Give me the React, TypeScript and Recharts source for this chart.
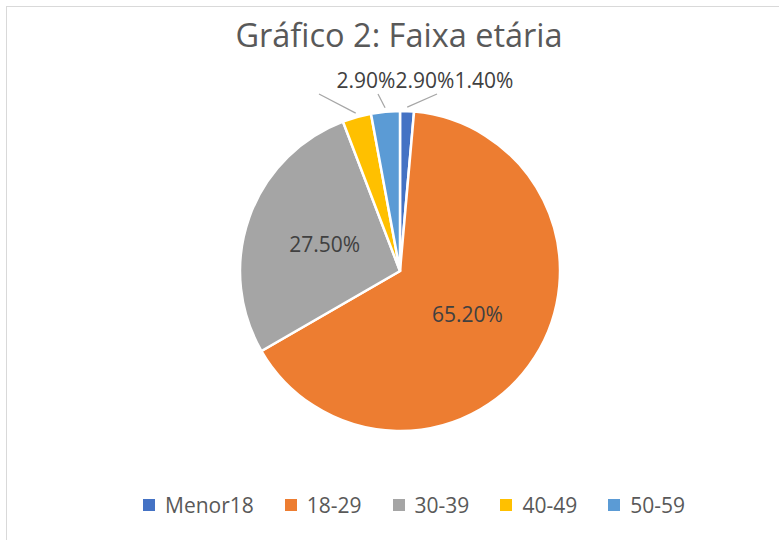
import { PieChart, Pie, Cell, Legend } from "recharts";

const categories = ["Menor18", "18-29", "30-39", "40-49", "50-59"];
const shares = [1.4, 65.2, 27.5, 2.9, 2.9];
const sliceColors = ["#4472C4", "#ED7D31", "#A5A5A5", "#FFC000", "#5B9BD5"];

const data = categories.map((name, i) => ({ name, value: shares[i] }));

const RADIAN = Math.PI / 180;
const FONT = "'Open Sans', sans-serif";

// big slices get the label inside, small ones go in a row above the pie
function renderLabel(props: any) {
  const { cx, cy, midAngle, outerRadius, index, value } = props;
  const text = `${Number(value).toFixed(2)}%`;
  const cos = Math.cos(-midAngle * RADIAN);
  const sin = Math.sin(-midAngle * RADIAN);
  if (value >= 10) {
    const r = outerRadius * 0.5;
    return (
      <text
        x={cx + r * cos}
        y={cy + r * sin}
        textAnchor="middle"
        dominantBaseline="central"
        fill="#404040"
        fontSize={21}
        fontFamily={FONT}
      >
        {text}
      </text>
    );
  }
  const slot = (index + 2) % 5;
  const lx = cx - 34 + slot * 59;
  const ly = cy - outerRadius - 23;
  const ax = cx + (outerRadius + 4) * cos;
  const ay = cy + (outerRadius + 4) * sin;
  return (
    <g>
      <line x1={ax} y1={ay} x2={lx - 47} y2={ly + 6} stroke="#A6A6A6" strokeWidth={1.25} />
      <text x={lx} y={ly} textAnchor="middle" fill="#404040" fontSize={21} fontFamily={FONT}>
        {text}
      </text>
    </g>
  );
}

function LegendContent() {
  return (
    <div style={{ display: "flex", alignItems: "center", paddingLeft: 143, fontFamily: FONT }}>
      {categories.map((c, i) => (
        <div key={c} style={{ display: "flex", alignItems: "center", marginRight: 31 }}>
          <span style={{ width: 12, height: 12, background: sliceColors[i], marginRight: 10 }} />
          <span style={{ fontSize: 21, color: "#595959" }}>{c}</span>
        </div>
      ))}
    </div>
  );
}

export default function App() {
  return (
    <div
      style={{
        position: "absolute",
        left: 0,
        top: 0,
        width: 779,
        height: 540,
        overflow: "hidden",
        background: "#fff",
      }}
    >
      <div
        style={{
          position: "absolute",
          left: 6,
          top: 6,
          width: 900,
          height: 700,
          border: "1px solid #D9D9D9",
        }}
      />
      <div
        style={{
          position: "absolute",
          left: 0,
          top: 12,
          width: 798,
          textAlign: "center",
          fontFamily: FONT,
          fontSize: 32.5,
          color: "#595959",
        }}
      >
        Gráfico 2: Faixa etária
      </div>
      <div style={{ position: "absolute", left: 0, top: 0 }}>
        <PieChart width={779} height={540} margin={{ top: 0, right: 0, bottom: 0, left: 0 }}>
          <Pie
            data={data}
            dataKey="value"
            nameKey="name"
            cx={400}
            cy={271}
            outerRadius={160}
            startAngle={90}
            endAngle={-270}
            label={renderLabel}
            labelLine={false}
            isAnimationActive={false}
          >
            {data.map((d, i) => (
              <Cell key={d.name} fill={sliceColors[i]} stroke="#fff" strokeWidth={2.5} />
            ))}
          </Pie>
          <Legend
            content={<LegendContent />}
            wrapperStyle={{ left: 0, top: 491, width: 779 }}
          />
        </PieChart>
      </div>
    </div>
  );
}
